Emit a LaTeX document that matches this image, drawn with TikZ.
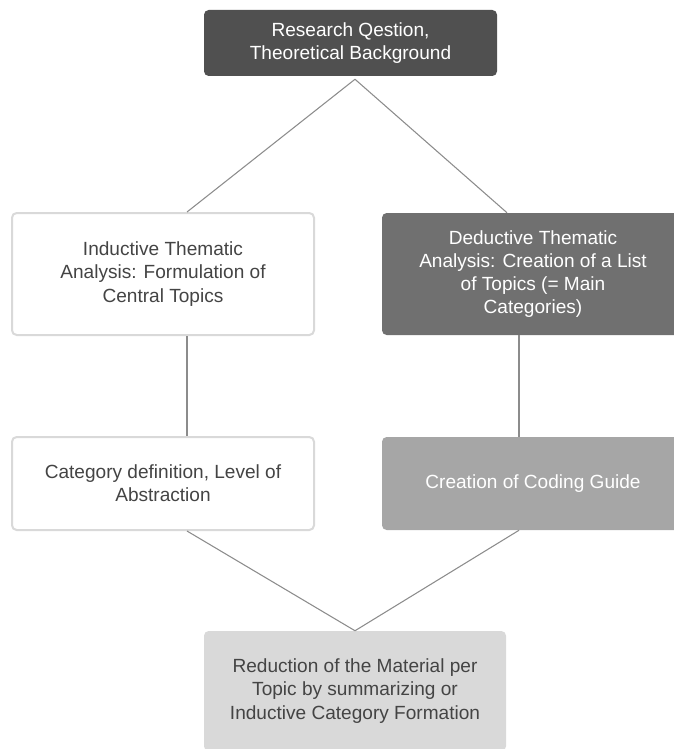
\documentclass[tikz,border=0pt]{standalone}
\usepackage{fontspec}
\setmainfont{Liberation Sans}
\usetikzlibrary{calc}
\definecolor{boxdark}{HTML}{505050}
\definecolor{boxmid}{HTML}{707070}
\definecolor{boxlight}{HTML}{A6A6A6}
\definecolor{boxpale}{HTML}{D9D9D9}
\definecolor{txtgray}{HTML}{444444}
\definecolor{linegray}{HTML}{8C8C8C}
\begin{document}
\begin{tikzpicture}[x=0.75pt,y=-0.75pt,
    box/.style={rectangle,rounded corners=3.5pt,align=center,
      minimum width=226.5pt,font=\fontsize{14.3pt}{17.4pt}\selectfont},
    whitebox/.style={box,fill=white,draw=boxpale,line width=1.5pt,text=txtgray},
    link/.style={draw=linegray,line width=0.8pt}]
  \useasboundingbox (0,0) rectangle (674,749);
  \clip (0,0) rectangle (674,749);
  % boxes
  \node[box,fill=boxdark,text=white,minimum width=219.75pt,minimum height=49.5pt]
    (quest) at (350.5,43) {Research Qestion,\\Theoretical Background};
  \node[whitebox,minimum height=91.5pt] (induct) at (163,274)
    {Inductive Thematic\\Analysis: Formulation of\\Central Topics};
  \node[box,fill=boxmid,text=white,minimum height=91.5pt] (deduct) at (533,274)
    {Deductive Thematic\\Analysis: Creation of a List\\of Topics (= Main\\Categories)};
  \node[whitebox,minimum height=69.75pt] (catdef) at (163,483.5)
    {Category definition, Level of\\Abstraction};
  \node[box,fill=boxlight,text=white,minimum height=69.75pt] (guide) at (533,483.5)
    {Creation of Coding Guide};
  \node[box,fill=boxpale,text=txtgray,minimum height=90pt] (reduce) at (355,691)
    {Reduction of the Material per\\Topic by summarizing or\\Inductive Category Formation};
  % connectors
  \draw[link] ($(quest.south)+(4.5,3)$) -- ($(induct.north)+(24,0)$);
  \draw[link] ($(quest.south)+(4.5,3)$) -- ($(deduct.north)+(-26,0)$);
  \draw[link] ($(induct.south)+(24,0)$) -- ($(catdef.north)+(24,0)$);
  \draw[link] ($(deduct.south)+(-14,0)$) -- ($(guide.north)+(-14,0)$);
  \draw[link] ($(catdef.south)+(24,0)$) -- (reduce.north);
  \draw[link] ($(guide.south)+(-14,0)$) -- (reduce.north);
\end{tikzpicture}
\end{document}
